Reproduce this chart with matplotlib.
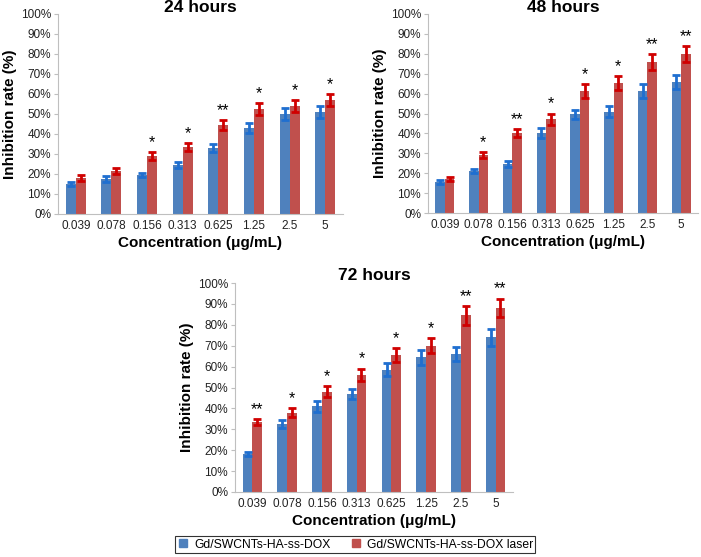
import numpy as np
import matplotlib
matplotlib.use("Agg")
import matplotlib.pyplot as plt
from matplotlib.lines import Line2D

plt.rcParams['font.family'] = ['Liberation Sans', 'DejaVu Sans']

concentrations = ["0.039", "0.078", "0.156", "0.313", "0.625", "1.25", "2.5", "5"]

# --- 24 hours ---
blue_24 = [15, 17.5, 19.5, 24.5, 33, 43, 50, 51]
blue_24_err = [1, 1.3, 1, 1.5, 2, 2.5, 3, 3]
red_24 = [18, 21.5, 29, 33.5, 44.5, 52.5, 54, 57]
red_24_err = [1.3, 1.3, 2, 2, 2.5, 3, 3, 3]
stars_24 = ["", "", "*", "*", "**", "*", "*", "*"]

# --- 48 hours ---
blue_48 = [15.5, 21, 24.5, 40, 49.5, 51, 61.5, 66]
blue_48_err = [1, 1, 1.5, 2.5, 2.5, 3, 3.5, 3.5]
red_48 = [17, 29, 40, 47, 61.5, 65.5, 76, 80]
red_48_err = [1, 1.5, 2, 3, 3.5, 3.5, 4, 4]
stars_48 = ["", "*", "**", "*", "*", "*", "**", "**"]

# --- 72 hours ---
blue_72 = [18, 32.5, 41, 47, 58.5, 64.5, 66, 74]
blue_72_err = [1, 2, 2.5, 2.5, 3, 3.5, 3.5, 4]
red_72 = [33.5, 38, 48, 56, 65.5, 70, 84.5, 88]
red_72_err = [1.5, 2, 2.5, 3, 3.5, 3.5, 4.5, 4.5]
stars_72 = ["**", "*", "*", "*", "*", "*", "**", "**"]

series_names = ["Gd/SWCNTs-HA-ss-DOX", "Gd/SWCNTs-HA-ss-DOX laser"]

BAR_BLUE = "#4F81BD"
BAR_RED = "#C0504D"
ERR_BLUE = "#1F6FD0"
ERR_RED = "#D00000"
SPINE = "#BFBFBF"


def draw_panel(fig, ax, title, blue, blue_err, red, red_err, stars, title_at_top=False):
    x = np.arange(len(concentrations))
    w = 0.28
    ax.bar(x - w / 2, blue, w, color=BAR_BLUE)
    ax.bar(x + w / 2, red, w, color=BAR_RED)
    ax.errorbar(x - w / 2, blue, yerr=blue_err, fmt="none", ecolor=ERR_BLUE,
                elinewidth=2, capsize=3, capthick=2)
    ax.errorbar(x + w / 2, red, yerr=red_err, fmt="none", ecolor=ERR_RED,
                elinewidth=2, capsize=3, capthick=2)
    for xi, v, e, s in zip(x, red, red_err, stars):
        if s:
            ax.text(xi + w / 2, v + e + 1.0, s, ha="center", va="bottom", fontsize=11.5)

    ax.set_xlim(-0.5, len(concentrations) - 0.5)
    ax.set_ylim(0, 100)
    ax.set_yticks(range(0, 101, 10))
    ax.set_yticklabels([f"{t}%" for t in range(0, 101, 10)], fontsize=8.5, color="#222222")
    ax.set_xticks(x)
    ax.set_xticklabels(concentrations, fontsize=8.5, color="#222222")
    ax.tick_params(axis="x", length=0, pad=4)
    ax.tick_params(axis="y", length=3, color=SPINE, pad=2)
    for side in ["top", "right"]:
        ax.spines[side].set_visible(False)
    for side in ["left", "bottom"]:
        ax.spines[side].set_color(SPINE)
    if title_at_top:
        # keep the title inside the figure's top edge
        pos = ax.get_position()
        fig.text((pos.x0 + pos.x1) / 2, 1 - 0.5 / 557, title, ha="center", va="top",
                 fontsize=12.5, fontweight="bold")
    else:
        ax.set_title(title, fontsize=12.5, fontweight="bold", pad=2)
    ax.set_xlabel("Concentration (μg/mL)", fontsize=11, fontweight="bold", labelpad=3)
    ax.set_ylabel("Inhibition rate (%)", fontsize=11, fontweight="bold", labelpad=3)


fig = plt.figure(figsize=(7.01, 5.57), dpi=100)

ax1 = fig.add_axes([58 / 701, 1 - 214 / 557, 285 / 701, 200 / 557])
ax2 = fig.add_axes([428 / 701, 1 - 213 / 557, 270 / 701, 199 / 557])
ax3 = fig.add_axes([235 / 701, 1 - 492 / 557, 278 / 701, 209 / 557])

draw_panel(fig, ax1, "24 hours", blue_24, blue_24_err, red_24, red_24_err, stars_24, True)
draw_panel(fig, ax2, "48 hours", blue_48, blue_48_err, red_48, red_48_err, stars_48, True)
draw_panel(fig, ax3, "72 hours", blue_72, blue_72_err, red_72, red_72_err, stars_72)

handles = [Line2D([], [], marker="s", linestyle="none", markersize=5.5,
                  markerfacecolor=c, markeredgecolor=c) for c in (BAR_BLUE, BAR_RED)]
leg = fig.legend(handles, series_names, loc="center", bbox_to_anchor=(355 / 701, 1 - 544.5 / 557),
                 ncol=2, fontsize=8.7, frameon=True, fancybox=False, handletextpad=0.4,
                 columnspacing=1.6, borderpad=0.2, handlelength=1.0, borderaxespad=0)
leg.get_frame().set_edgecolor("black")
leg.get_frame().set_linewidth(0.8)

fig.savefig("out.png", dpi=100)
